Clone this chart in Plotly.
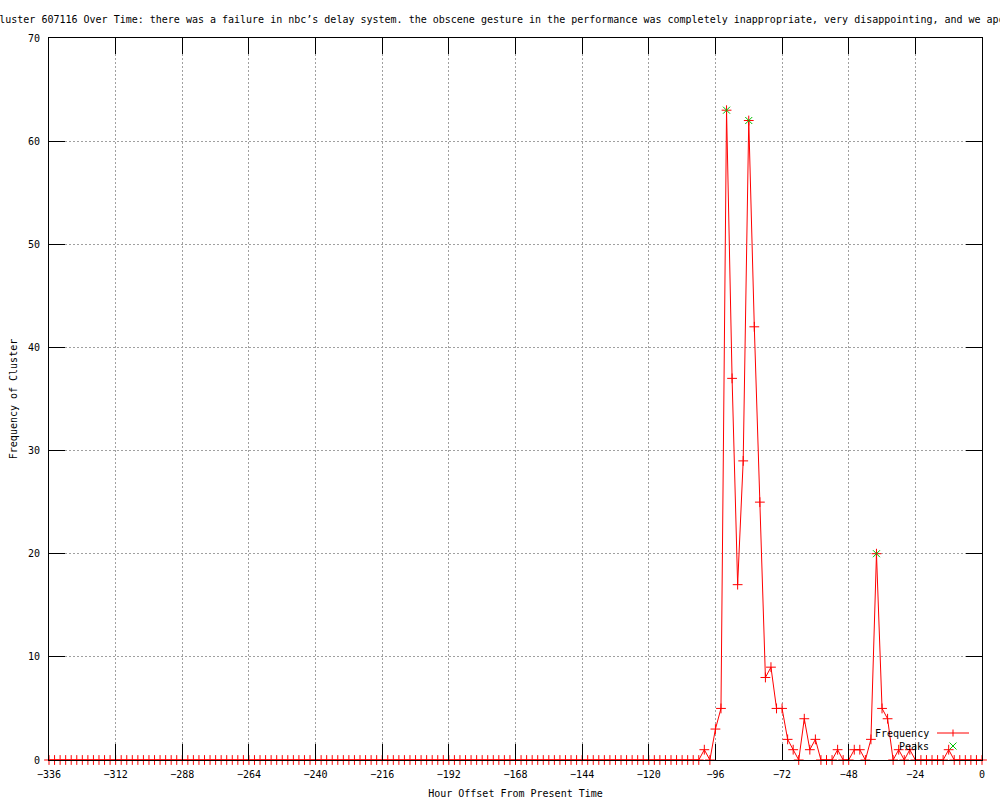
import plotly.graph_objects as go

# ---- data ----
hours = list(range(-336, 1, 2))  # hour offsets, every 2 hours
frequency = [
    0, 0, 0, 0, 0, 0, 0, 0, 0, 0, 0, 0, 0, 0, 0, 0, 0, 0, 0, 0,   # -336 .. -298
    0, 0, 0, 0, 0, 0, 0, 0, 0, 0, 0, 0, 0, 0, 0, 0, 0, 0, 0, 0,   # -296 .. -258
    0, 0, 0, 0, 0, 0, 0, 0, 0, 0, 0, 0, 0, 0, 0, 0, 0, 0, 0, 0,   # -256 .. -218
    0, 0, 0, 0, 0, 0, 0, 0, 0, 0, 0, 0, 0, 0, 0, 0, 0, 0, 0, 0,   # -216 .. -178
    0, 0, 0, 0, 0, 0, 0, 0, 0, 0, 0, 0, 0, 0, 0, 0, 0, 0, 0, 0,   # -176 .. -138
    0, 0, 0, 0, 0, 0, 0, 0, 0, 0, 0, 0, 0, 0, 0, 0, 0, 0,         # -136 .. -102
    1, 0, 3, 5, 63, 37, 17, 29, 62, 42, 25, 8, 9, 5, 5, 2, 1, 0,  # -100 .. -66
    4, 1, 2, 0, 0, 0, 1, 0, 0, 1, 1, 0, 2, 20, 5, 4, 0, 1, 0, 1,  # -64 .. -26
    0, 0, 0, 0, 0, 0, 1, 0, 0, 0, 0, 0, 0,                        # -24 .. 0
]
peak_hours = [-92, -84, -38]
peak_values = [63, 62, 20]

x_ticks = list(range(-336, 1, 24))
y_ticks = list(range(0, 71, 10))

title_text = ("Cluster 607116 Over Time: there was a failure in nbc\u2019s delay system. "
              "the obscene gesture in the performance was completely inappropriate, "
              "very disappointing, and we apologize")
x_title = "Hour Offset From Present Time"
y_title = "Frequency of Cluster"
series_names = ["Frequency", "Peaks"]

FONT = "DejaVu Sans Mono"
RED = "#ff0000"
GREEN = "#00c000"

# plot area geometry (pixels)
L, R, T, B = 49, 982, 38, 760


def px(xp):
    return (xp - L) / (R - L)


def py(yp):
    return (B - yp) / (B - T)


fig = go.Figure()
fig.add_trace(go.Scatter(
    x=hours, y=frequency, mode="lines+markers", name=series_names[0],
    line=dict(color=RED, width=1),
    marker=dict(symbol="cross-thin", size=7, color=RED, line=dict(color=RED, width=1)),
    showlegend=False, cliponaxis=False,
))
fig.add_trace(go.Scatter(
    x=peak_hours, y=peak_values, mode="markers", name=series_names[1],
    marker=dict(symbol="x-thin", size=7, color=GREEN, line=dict(color=GREEN, width=1)),
    showlegend=False, cliponaxis=False,
))

axis_common = dict(
    showline=True, linecolor="black", linewidth=1, mirror="ticks",
    ticks="inside", ticklen=16, tickwidth=1, tickcolor="black",
    showgrid=True, gridcolor="#a0a0a0", gridwidth=1, griddash="2px,2px",
    zeroline=False, automargin=False,
    tickfont=dict(family=FONT, size=10, color="black"),
)

fig.update_xaxes(
    range=[-336, 0], tickvals=x_ticks, ticktext=[str(v).replace("-", "\u2212") for v in x_ticks],
    title=dict(text=x_title, font=dict(family=FONT, size=10, color="black"), standoff=10),
    ticklabelstandoff=5,
    **axis_common,
)
fig.update_yaxes(
    range=[0, 70], tickvals=y_ticks,
    title=dict(text=y_title, font=dict(family=FONT, size=10, color="black"), standoff=8),
    ticklabelstandoff=6,
    **axis_common,
)

annotations = [
    dict(text=series_names[0], xref="paper", yref="paper", x=px(931), y=py(733),
         xanchor="right", yanchor="middle", showarrow=False,
         font=dict(family=FONT, size=10, color="black")),
    dict(text=series_names[1], xref="paper", yref="paper", x=px(931), y=py(746),
         xanchor="right", yanchor="middle", showarrow=False,
         font=dict(family=FONT, size=10, color="black")),
]

shapes = [
    # legend sample: red line with + marker
    dict(type="line", xref="paper", yref="paper", x0=px(937), x1=px(969), y0=py(733), y1=py(733),
         line=dict(color=RED, width=1)),
    dict(type="line", xref="paper", yref="paper", x0=px(953), x1=px(953), y0=py(729.5), y1=py(736.5),
         line=dict(color=RED, width=1)),
    # legend sample: green x
    dict(type="line", xref="paper", yref="paper", x0=px(949.5), x1=px(956.5), y0=py(742.5), y1=py(749.5),
         line=dict(color=GREEN, width=1)),
    dict(type="line", xref="paper", yref="paper", x0=px(949.5), x1=px(956.5), y0=py(749.5), y1=py(742.5),
         line=dict(color=GREEN, width=1)),
]

fig.update_layout(
    width=1000, height=800,
    margin=dict(l=L, r=1000 - R, t=T, b=800 - B, pad=0, autoexpand=False),
    paper_bgcolor="white", plot_bgcolor="white",
    font=dict(family=FONT, size=10, color="black"),
    title=dict(text=title_text, xref="container", yref="container",
               x=0.517, xanchor="center", y=1 - 19 / 800, yanchor="middle",
               font=dict(family=FONT, size=10, color="black"), automargin=False),
    annotations=annotations, shapes=shapes,
    showlegend=False,
)

fig.write_html("out.html", config={"displayModeBar": False},
               post_script="document.body.style.margin='0';")
